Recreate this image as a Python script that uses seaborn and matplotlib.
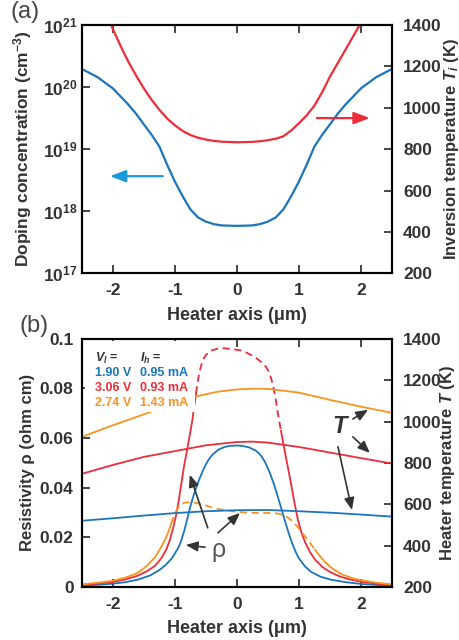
import numpy as np
import pandas as pd
import matplotlib
matplotlib.use('Agg')
import matplotlib.pyplot as plt
from matplotlib.ticker import FixedLocator, FuncFormatter, NullLocator
from matplotlib.patches import Rectangle
import seaborn as sns

BLUE = '#1a75bc'
RED = '#ec2d3a'
ORANGE = '#f7931e'
GREY = '#333333'

# ---- panel (a): doping profile and inversion temperature ----
x_dop = [-2.5, -2.25, -2.0, -1.75, -1.625, -1.5, -1.375, -1.25, -1.125, -1.0, -0.875, -0.75, -0.625,
         -0.5, -0.375, -0.25, 0.0, 0.25, 0.375, 0.5, 0.625, 0.75, 0.875, 1.0, 1.125, 1.25, 1.375,
         1.5, 1.625, 1.75, 2.0, 2.25, 2.5]
doping = [1.95e20, 1.45e20, 9.5e19, 5.2e19, 3.7e19, 2.5e19, 1.7e19, 1.1e19, 5.6e18, 3.0e18, 1.74e18, 1.07e18, 7.9e17,
          6.8e17, 6.2e17, 5.9e17, 5.8e17, 5.9e17, 6.2e17, 6.8e17, 7.9e17, 1.07e18, 1.74e18, 3.0e18, 5.6e18, 1.1e19, 1.7e19,
          2.5e19, 3.7e19, 5.2e19, 9.5e19, 1.45e20, 1.95e20]

x_inv = [-2.25, -2.125, -2.0, -1.875, -1.75, -1.625, -1.5, -1.375, -1.25, -1.125, -1.0, -0.875, -0.75, -0.625,
         -0.5, -0.375, -0.25, 0.0, 0.25, 0.375, 0.5, 0.625, 0.75, 0.875, 1.0, 1.125, 1.25, 1.375, 1.5,
         1.625, 1.75, 1.875, 2.0, 2.25]
t_inv = [1560, 1470, 1380, 1298, 1222, 1155, 1093, 1038, 990, 948, 915, 888, 868, 855,
         846, 840, 836, 833, 835, 838, 843, 850, 862, 890, 925, 963, 1010, 1075, 1150,
         1215, 1280, 1345, 1410, 1570]

# ---- panel (b): resistivity and heater temperature ----
x_rho_blue = [-2.5, -2.2, -2.0, -1.8, -1.6, -1.4, -1.25, -1.15, -1.05, -0.95, -0.9, -0.85, -0.8, -0.75, -0.7,
              -0.65, -0.6, -0.55, -0.5, -0.45, -0.4, -0.3, -0.2, -0.1, 0.0, 0.1, 0.2, 0.3, 0.35, 0.4, 0.45,
              0.5, 0.55, 0.6, 0.65, 0.7, 0.75, 0.8, 0.85, 0.9, 0.95, 1.0, 1.1, 1.2, 1.35, 1.5, 1.75, 2.0,
              2.25, 2.5]
rho_blue = [0.0005, 0.0009, 0.0013, 0.0019, 0.0029, 0.0046, 0.0068, 0.0088, 0.0115, 0.0155, 0.0185, 0.0225, 0.0275,
            0.0325, 0.0368, 0.0405, 0.0438, 0.0468, 0.0494, 0.0515, 0.0532, 0.0553, 0.0564, 0.0569, 0.0570, 0.0568,
            0.0562, 0.0550, 0.0540, 0.0525, 0.0505, 0.0478, 0.0447, 0.0412, 0.0372, 0.0330, 0.0287, 0.0245, 0.0205,
            0.0170, 0.0140, 0.0115, 0.0082, 0.0060, 0.0041, 0.0030, 0.0019, 0.0012, 0.0008, 0.0005]

x_rho_red = [-2.5, -2.2, -2.0, -1.8, -1.6, -1.45, -1.32, -1.22, -1.14, -1.08, -1.03, -0.98, -0.94, -0.9, -0.85,
             -0.79, -0.72, -0.66, -0.62, -0.58, -0.54, -0.5, -0.42, -0.3, -0.19, -0.05, 0.05, 0.15, 0.29, 0.4,
             0.47, 0.53, 0.58, 0.62, 0.66, 0.71, 0.77, 0.82, 0.87, 0.92, 0.98, 1.04, 1.1, 1.18, 1.26, 1.38,
             1.5, 1.65, 1.8, 2.0, 2.25, 2.5]
rho_red = [0.0008, 0.0014, 0.002, 0.003, 0.0045, 0.0063, 0.0085, 0.0115, 0.0150, 0.0190, 0.0235, 0.0290, 0.0345,
           0.0410, 0.0490, 0.0570, 0.0670, 0.0780, 0.0845, 0.0890, 0.0918, 0.0935, 0.0953, 0.0961, 0.0962, 0.0958,
           0.0954, 0.0945, 0.0927, 0.0905, 0.0887, 0.0860, 0.0815, 0.0765, 0.0700, 0.0630, 0.0550, 0.0485, 0.0420,
           0.0350, 0.0275, 0.0220, 0.0180, 0.0140, 0.0110, 0.0080, 0.0060, 0.0043, 0.0031, 0.0021, 0.0013, 0.0008]

x_rho_orange = [-2.5, -2.2, -2.0, -1.8, -1.6, -1.45, -1.32, -1.24, -1.16, -1.1, -1.06, -1.02, -0.98, -0.94, -0.9,
                -0.85, -0.79, -0.7, -0.63, -0.5, -0.42, -0.3, -0.19, 0.02, 0.2, 0.34, 0.5, 0.66, 0.75, 0.82,
                0.9, 0.98, 1.06, 1.15, 1.26, 1.34, 1.42, 1.55, 1.7, 1.85, 2.0, 2.25, 2.5]
rho_orange = [0.001, 0.0018, 0.0025, 0.0037, 0.0056, 0.0085, 0.0120, 0.0152, 0.0190, 0.0225, 0.0255, 0.0283, 0.0305,
              0.0322, 0.0333, 0.0339, 0.0341, 0.0340, 0.0337, 0.0328, 0.0321, 0.0314, 0.0309, 0.0302, 0.0299, 0.0298,
              0.0298, 0.0296, 0.0290, 0.0280, 0.0264, 0.0242, 0.0216, 0.0187, 0.0150, 0.0124, 0.0100, 0.0072, 0.0050,
              0.0036, 0.0027, 0.0017, 0.0010]

# dashed (extrapolated) part of each resistivity curve
dash_red = (-0.66, 0.71)
dash_orange = (-1.06, 1.26)

x_temp_blue = [-2.5, -2.0, -1.5, -1.0, -0.5, 0.0, 0.5, 1.0, 1.5, 2.0, 2.5]
temp_blue = [520, 532, 545, 557, 566, 571, 572, 566, 559, 550, 540]
x_temp_red = [-2.5, -2.0, -1.5, -1.0, -0.5, 0.0, 0.25, 0.5, 1.0, 1.5, 2.0, 2.5]
temp_red = [747, 790, 829, 857, 885, 901, 903, 898, 877, 850, 823, 797]
x_temp_orange = [-2.5, -2.0, -1.5, -1.0, -0.7, -0.3, 0.0, 0.25, 0.5, 1.0, 1.5, 2.0, 2.5]
temp_orange = [926, 982, 1035, 1090, 1119, 1145, 1155, 1159, 1158, 1140, 1105, 1072, 1042]

bias_labels = ['1.90 V', '3.06 V', '2.74 V']
current_labels = ['0.95 mA', '0.93 mA', '1.43 mA']
series_colors = [BLUE, RED, ORANGE]

sns.set_theme(style='ticks')
plt.rcParams['font.family'] = ['Liberation Sans', 'DejaVu Sans']
plt.rcParams['font.weight'] = 'bold'
plt.rcParams['axes.labelweight'] = 'bold'
plt.rcParams['mathtext.fontset'] = 'custom'
plt.rcParams['mathtext.rm'] = 'Liberation Sans:bold'
plt.rcParams['mathtext.bf'] = 'Liberation Sans:bold'
plt.rcParams['mathtext.it'] = 'Liberation Sans:bold:italic'
plt.rcParams['axes.edgecolor'] = 'black'
plt.rcParams['axes.linewidth'] = 1.5


def line(ax, x, y, color, lw, ls='-'):
    df = pd.DataFrame({'x': x, 'y': y})
    sns.lineplot(data=df, x='x', y='y', ax=ax, color=color, lw=lw, linestyle=ls, sort=False)


def split_line(ax, x, y, lims, color, lw):
    df = pd.DataFrame({'x': x, 'y': y})
    lo, hi = lims
    dash = (0, (4, 2.5))
    for part, ls in [(df[df.x <= lo], '-'), (df[(df.x >= lo) & (df.x <= hi)], dash), (df[df.x >= hi], '-')]:
        sns.lineplot(data=part, x='x', y='y', ax=ax, color=color, lw=lw, linestyle=ls, sort=False)


def bold_ticks(*axes):
    for a in axes:
        for lbl in a.get_xticklabels() + a.get_yticklabels():
            lbl.set_fontweight('bold')


def style_axes(ax, ax2, right_ticks, left_pad):
    ax.set_xlim(-2.5, 2.5)
    ax.xaxis.set_major_locator(FixedLocator([-2, -1, 0, 1, 2]))
    ax.xaxis.set_major_formatter(FuncFormatter(lambda v, p: f'{v:.0f}'))
    ax.tick_params(axis='x', direction='in', length=6, width=1.2, top=True, bottom=True,
                   labelsize=12.5, labelcolor=GREY, pad=7)
    ax.tick_params(axis='y', direction='in', length=6, width=1.2, left=True, right=False,
                   labelsize=12.5, labelcolor=GREY, pad=left_pad)
    ax2.set_ylim(200, 1400)
    ax2.yaxis.set_major_locator(FixedLocator(right_ticks))
    ax2.tick_params(axis='y', direction='in', length=6, width=1.2, right=True, left=False,
                    labelsize=12.5, labelcolor=GREY, pad=8)
    ax.set_xlabel('Heater axis (μm)', fontsize=13, color=GREY, fontweight='bold')
    ax.xaxis.set_label_coords(0.5, -0.135)


fig = plt.figure(figsize=(4.6, 6.4), dpi=100)
fig.patch.set_facecolor('white')

# ---------------- panel (a) ----------------
axa = fig.add_axes([0.178, 0.573, 0.674, 0.388])
axa2 = axa.twinx()
line(axa, x_dop, doping, BLUE, 1.6)
line(axa2, x_inv, t_inv, RED, 1.6)
axa.set_yscale('log')
axa.set_ylim(1e17, 1e21)
axa.yaxis.set_major_locator(FixedLocator([1e17, 1e18, 1e19, 1e20, 1e21]))
axa.yaxis.set_minor_locator(NullLocator())
axa.yaxis.set_major_formatter(FuncFormatter(lambda v, p: r'$10^{%d}$' % round(np.log10(v))))
style_axes(axa, axa2, [200, 400, 600, 800, 1000, 1200, 1400], 3)
axa.set_ylabel('Doping concentration (cm$^{-3}$)', fontsize=12.5, color=GREY, fontweight='bold')
axa.yaxis.set_label_coords(-0.155, 0.5)
axa2.set_ylabel('Inversion temperature $T_i$ (K)', fontsize=12, color=GREY, fontweight='bold')
axa2.yaxis.set_label_coords(1.16, 0.5)

axa.annotate('', xy=(0.09, 0.391), xytext=(0.261, 0.391), xycoords='axes fraction',
             arrowprops=dict(arrowstyle='-|>,head_length=0.8,head_width=0.3', color='#1a9ad6', lw=1.6,
                             shrinkA=0, shrinkB=0))
axa2.annotate('', xy=(0.929, 0.625), xytext=(0.758, 0.625), xycoords='axes fraction',
              arrowprops=dict(arrowstyle='-|>,head_length=0.8,head_width=0.3', color=RED, lw=1.6,
                              shrinkA=0, shrinkB=0))
fig.text(0.022, 0.998, '(a)', fontsize=17, fontweight='normal', color='#444444', va='top', ha='left')

# ---------------- panel (b) ----------------
axb = fig.add_axes([0.178, 0.083, 0.674, 0.3875])
axb2 = axb.twinx()
line(axb, x_rho_blue, rho_blue, BLUE, 1.3)
split_line(axb, x_rho_red, rho_red, dash_red, RED, 1.3)
split_line(axb, x_rho_orange, rho_orange, dash_orange, ORANGE, 1.3)
line(axb2, x_temp_blue, temp_blue, BLUE, 1.3)
line(axb2, x_temp_red, temp_red, RED, 1.3)
line(axb2, x_temp_orange, temp_orange, ORANGE, 1.3)
axb.set_ylim(0, 0.1)
axb.yaxis.set_major_locator(FixedLocator([0, 0.02, 0.04, 0.06, 0.08, 0.1]))
axb.yaxis.set_major_formatter(FuncFormatter(lambda v, p: '0' if v == 0 else f'{v:g}'))
style_axes(axb, axb2, [200, 400, 600, 800, 1000, 1200, 1400], 6)
axb.set_ylabel('Resistivity ρ (ohm cm)', fontsize=12, color=GREY, fontweight='bold')
axb.yaxis.set_label_coords(-0.15, 0.5)
axb2.set_ylabel('Heater temperature $T$ (K)', fontsize=12, color=GREY, fontweight='bold')
axb2.yaxis.set_label_coords(1.15, 0.5)
fig.text(0.043, 0.508, '(b)', fontsize=17, fontweight='normal', color='#444444', va='top', ha='left')

# bias table on a white box
axb2.add_patch(Rectangle((0.01, 0.706), 0.355, 0.285, transform=axb2.transAxes,
                         facecolor='white', edgecolor='none', zorder=5))
axb2.text(0.042, 0.923, '$V_l$ =', transform=axb2.transAxes, fontsize=9, color=GREY,
          va='center', zorder=6, fontweight='bold')
axb2.text(0.187, 0.923, '$I_h$ =', transform=axb2.transAxes, fontsize=9, color=GREY,
          va='center', zorder=6, fontweight='bold')
for i, (v, c, col) in enumerate(zip(bias_labels, current_labels, series_colors)):
    yy = 0.863 - i * 0.061
    axb2.text(0.042, yy, v, transform=axb2.transAxes, fontsize=9, color=col, va='center',
              zorder=6, fontweight='bold')
    axb2.text(0.187, yy, c, transform=axb2.transAxes, fontsize=9, color=col, va='center',
              zorder=6, fontweight='bold')

# T and rho pointers
arrow = dict(arrowstyle='-|>,head_length=0.6,head_width=0.25', color=GREY, lw=1.2, shrinkA=0, shrinkB=0)
axb2.text(0.832, 0.645, 'T', transform=axb2.transAxes, fontsize=17, fontstyle='italic',
          fontweight='bold', color=GREY, ha='center', va='center', zorder=6)
for tail, tip in [((0.874, 0.677), (0.923, 0.714)),
                  ((0.874, 0.605), (0.929, 0.540)),
                  ((0.826, 0.565), (0.871, 0.310))]:
    axb2.annotate('', xy=tip, xytext=tail, xycoords='axes fraction', arrowprops=arrow, zorder=6)

axb2.text(0.439, 0.15, 'ρ', transform=axb2.transAxes, fontsize=18, fontweight='normal',
          color='#555555', ha='center', va='center', zorder=6)
for tail, tip in [((0.397, 0.160), (0.335, 0.169)),
                  ((0.406, 0.238), (0.348, 0.452)),
                  ((0.439, 0.218), (0.510, 0.298))]:
    axb2.annotate('', xy=tip, xytext=tail, xycoords='axes fraction', arrowprops=arrow, zorder=6)

bold_ticks(axa, axa2, axb, axb2)
fig.savefig('out.png', dpi=100, facecolor='white')
